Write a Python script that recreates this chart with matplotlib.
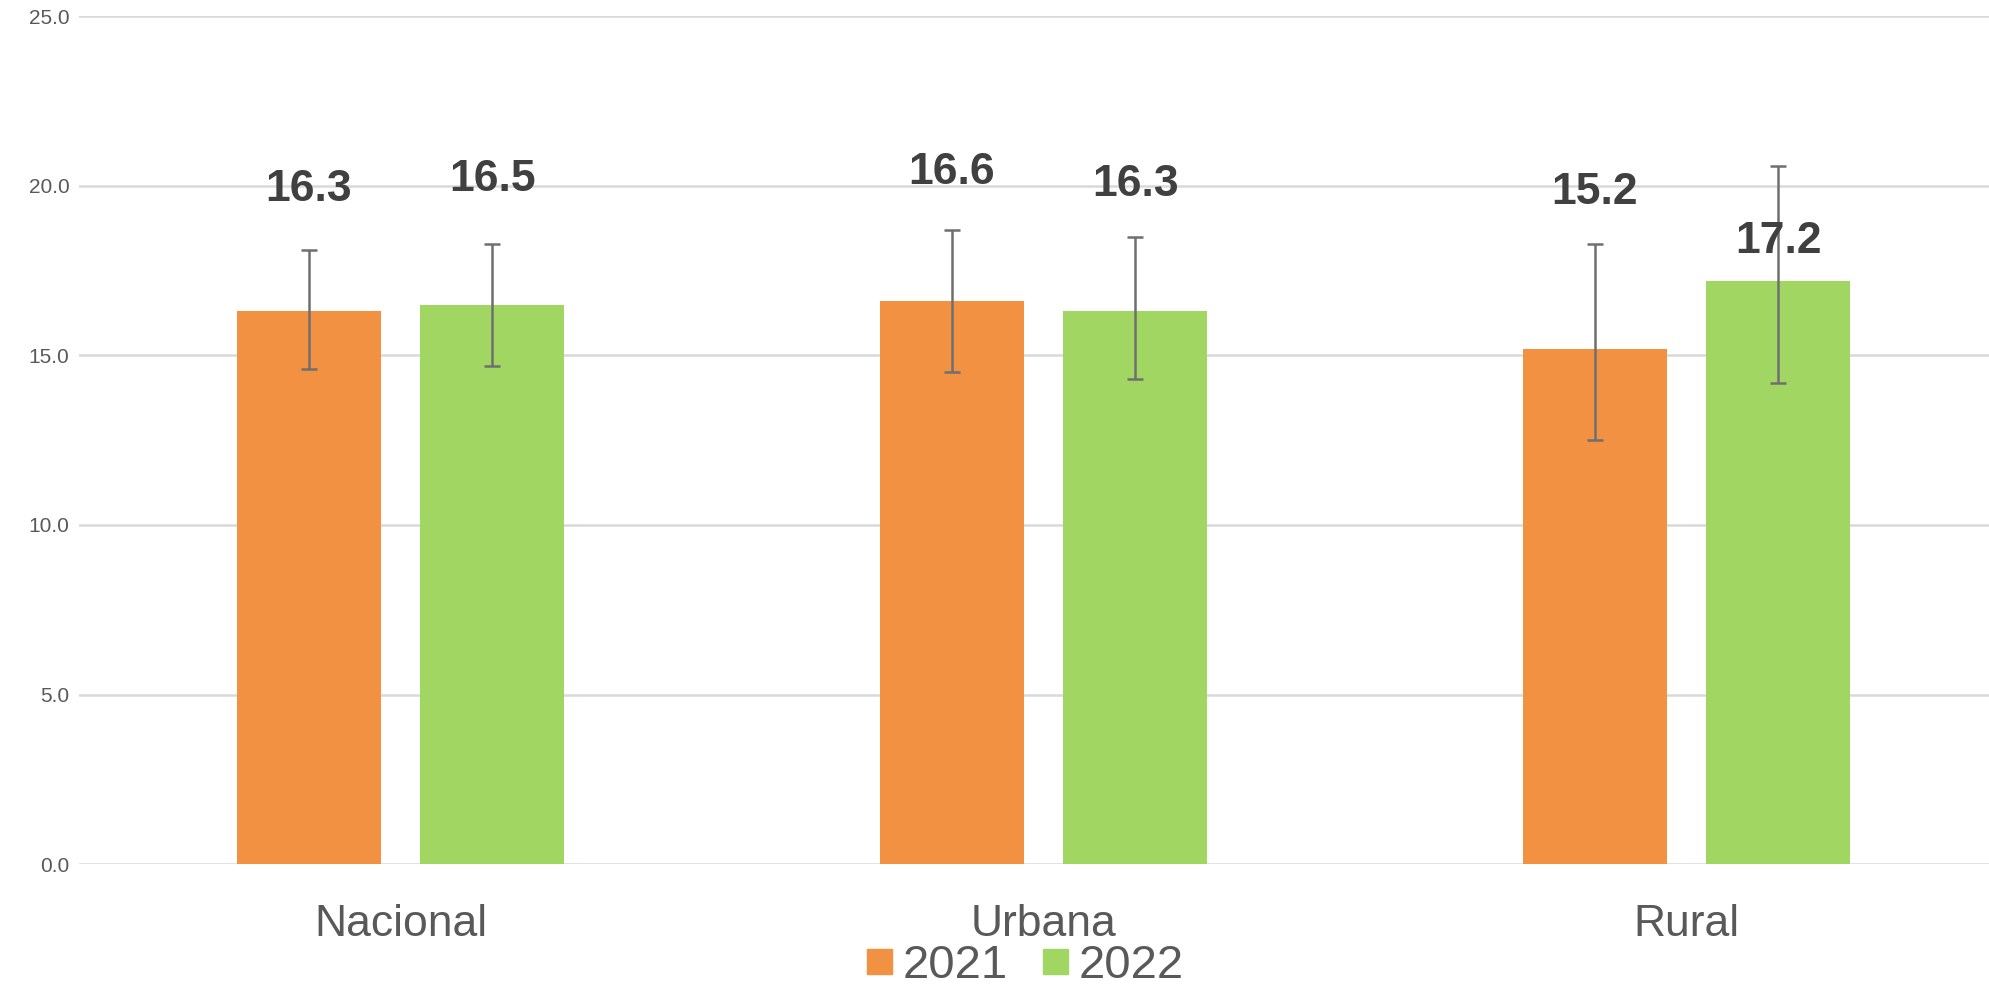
import numpy as np
import matplotlib
matplotlib.use("Agg")
from matplotlib import pyplot as plt
from matplotlib.lines import Line2D

plt.rcParams['font.family'] = ['Liberation Sans', 'DejaVu Sans']

categories = ["Nacional", "Urbana", "Rural"]
years = ["2021", "2022"]
values_2021 = [16.3, 16.6, 15.2]
values_2022 = [16.5, 16.3, 17.2]
# error bar ends
low_2021 = [14.6, 14.5, 12.5]
high_2021 = [18.1, 18.7, 18.3]
low_2022 = [14.7, 14.3, 14.2]
high_2022 = [18.3, 18.5, 20.6]
yticks = [0.0, 5.0, 10.0, 15.0, 20.0, 25.0]

# where the value labels sit (data units), placed by hand in the original
label_y_2021 = [19.9, 20.4, 19.8]
label_y_2022 = [20.2, 20.05, 18.35]

colors = ["#F29141", "#A2D662"]
err_color = "#6F6F6F"
grid_color = "#D9D9D9"

fig = plt.figure(figsize=(19.9, 9.9), dpi=100)
ax = fig.add_axes([79 / 1990, 126 / 990, (2008 - 79) / 1990, 847.5 / 990])

x = np.arange(len(categories))
width = 0.224
offset = 0.143

series = [
    (values_2021, low_2021, high_2021, label_y_2021),
    (values_2022, low_2022, high_2022, label_y_2022),
]
for i, (vals, lo, hi, ly) in enumerate(series):
    vals = np.array(vals)
    pos = x + (-offset if i == 0 else offset)
    ax.bar(pos, vals, width, color=colors[i], zorder=2)
    yerr = [vals - np.array(lo), np.array(hi) - vals]
    ax.errorbar(pos, vals, yerr=yerr, fmt="none", ecolor=err_color,
                elinewidth=1.8, capsize=5.5, capthick=1.8, zorder=3)
    for p, v, y in zip(pos, vals, ly):
        ax.text(p, y, f"{v:.1f}", ha="center", va="center", fontsize=32,
                fontweight="bold", color="#404040", zorder=4)

ax.set_xlim(-0.5, len(categories) - 0.5)
ax.set_ylim(0, 25)
ax.set_yticks(yticks)
ax.set_yticklabels([f"{t:.1f}" for t in yticks], fontsize=15, color="#595959")
ax.set_xticks(x)
ax.set_xticklabels(categories, fontsize=32, color="#595959")
ax.tick_params(axis="y", length=0, pad=7)
ax.tick_params(axis="x", length=0, pad=29)
ax.yaxis.grid(True, color=grid_color, linewidth=1.8, zorder=0)
ax.set_axisbelow(True)
for s in ax.spines.values():
    s.set_visible(False)

handles = [Line2D([], [], marker="s", linestyle="none", markersize=18,
                  markerfacecolor=c, markeredgecolor=c) for c in colors]
fig.legend(handles, years, loc="center", bbox_to_anchor=(1023 / 1990, 1 - 966 / 990),
           ncol=2, frameon=False, fontsize=34, labelcolor="#595959",
           handlelength=0.7, handletextpad=0.15, columnspacing=0.65,
           borderpad=0.1)

fig.savefig("out.png", dpi=100)
